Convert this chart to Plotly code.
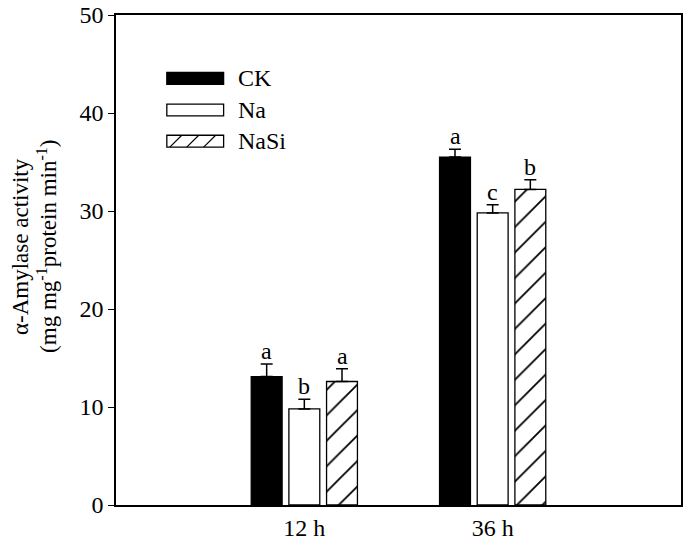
import plotly.graph_objects as go

categories = ["12 h", "36 h"]
series_names = ["CK", "Na", "NaSi"]
ck_values = [13.1, 35.5]
na_values = [9.8, 29.8]
nasi_values = [12.6, 32.2]
ck_err = [1.3, 0.8]
na_err = [1.0, 0.85]
nasi_err = [1.3, 1.0]
ck_letters = ["a", "a"]
na_letters = ["b", "c"]
nasi_letters = ["a", "b"]
y_ticks = [0, 10, 20, 30, 40, 50]
y_title_lines = ["α-Amylase activity", "(mg mg<sup>-1</sup>protein min<sup>-1</sup>)"]

FONT = "Liberation Serif, Times New Roman, serif"
FS = 24
FT = 23
xpos = list(range(len(categories)))

series = [
    (series_names[0], ck_values, ck_err, ck_letters, dict(color="black")),
    (series_names[1], na_values, na_err, na_letters, dict(color="white")),
    (series_names[2], nasi_values, nasi_err, nasi_letters,
     dict(color="white", pattern=dict(shape="/", fgcolor="black", fgopacity=1, bgcolor="white", size=18, solidity=0.1))),
]

fig = go.Figure()
BARGAP = 0.4
slot = (1 - BARGAP) / len(series)
annotations = []
for i, (name, vals, errs, letters, marker) in enumerate(series):
    m = dict(marker)
    m["line"] = dict(color="black", width=1.3)
    fig.add_trace(go.Bar(
        name=name, x=xpos, y=vals, marker=m, showlegend=False,
        error_y=dict(type="data", array=errs, arrayminus=[0] * len(errs), symmetric=False,
                     color="black", thickness=1.5, width=6),
    ))
    for j, (v, e, t) in enumerate(zip(vals, errs, letters)):
        annotations.append(dict(
            x=xpos[j] + (i - 1) * slot, y=v + e, xref="x", yref="y", text=t, showarrow=False,
            yanchor="bottom", yshift=-2, font=dict(family=FONT, size=FS, color="black")))

# custom legend (paper coordinates)
W, H = 685, 543
L, R, T, B = 116, 2, 11, 37
pw, ph = W - L - R, H - T - B
def px(x): return (x - L) / pw
def py(y): return 1 - (y - T) / ph

shapes = []
rows = [75, 107, 138.5]
for k, name in enumerate(series_names):
    yc = rows[k]
    fill = "black" if k == 0 else "white"
    shapes.append(dict(type="rect", xref="paper", yref="paper", x0=px(167), x1=px(224),
                       y0=py(yc + 6), y1=py(yc - 6), fillcolor=fill, line=dict(color="black", width=1.3)))
    annotations.append(dict(x=px(236), y=py(yc), xref="paper", yref="paper", text=name,
                            showarrow=False, xanchor="left", yanchor="middle",
                            font=dict(family=FONT, size=FS, color="black")))
# hatch lines for NaSi swatch
yc = rows[2]
for x0 in [170, 187, 204]:
    shapes.append(dict(type="line", xref="paper", yref="paper",
                       x0=px(x0), y0=py(yc + 6), x1=px(x0 + 12), y1=py(yc - 6),
                       line=dict(color="black", width=1.2)))

# y-axis title (two rotated lines)
for txt, xc in zip(y_title_lines, [20, 47]):
    annotations.append(dict(x=px(xc), y=py(245), xref="paper", yref="paper", text=txt,
                            textangle=-90, showarrow=False, xanchor="center", yanchor="middle",
                            font=dict(family=FONT, size=FT, color="black")))

fig.update_layout(
    width=W, height=H,
    margin=dict(l=L, r=R, t=T, b=B),
    paper_bgcolor="white", plot_bgcolor="white",
    barmode="group", bargap=BARGAP, bargroupgap=0.18,
    font=dict(family=FONT, size=FS, color="black"),
    annotations=annotations, shapes=shapes,
    xaxis=dict(range=[-1, 2], tickvals=xpos, ticktext=categories, ticks="",
               showline=True, linecolor="black", linewidth=1.5, mirror=True,
               showgrid=False, zeroline=False, tickfont=dict(size=FS)),
    yaxis=dict(range=[0, 50], tickvals=y_ticks, ticks="outside", ticklen=6, tickwidth=1.3,
               tickcolor="black", showline=True, linecolor="black", linewidth=1.5, mirror=True,
               showgrid=False, zeroline=False, tickfont=dict(size=FS), ticklabeloverflow="allow"),
)

fig.write_html("out.html", config={"displayModeBar": False},
               post_script="document.body.style.margin='0';document.body.style.overflow='hidden';")
